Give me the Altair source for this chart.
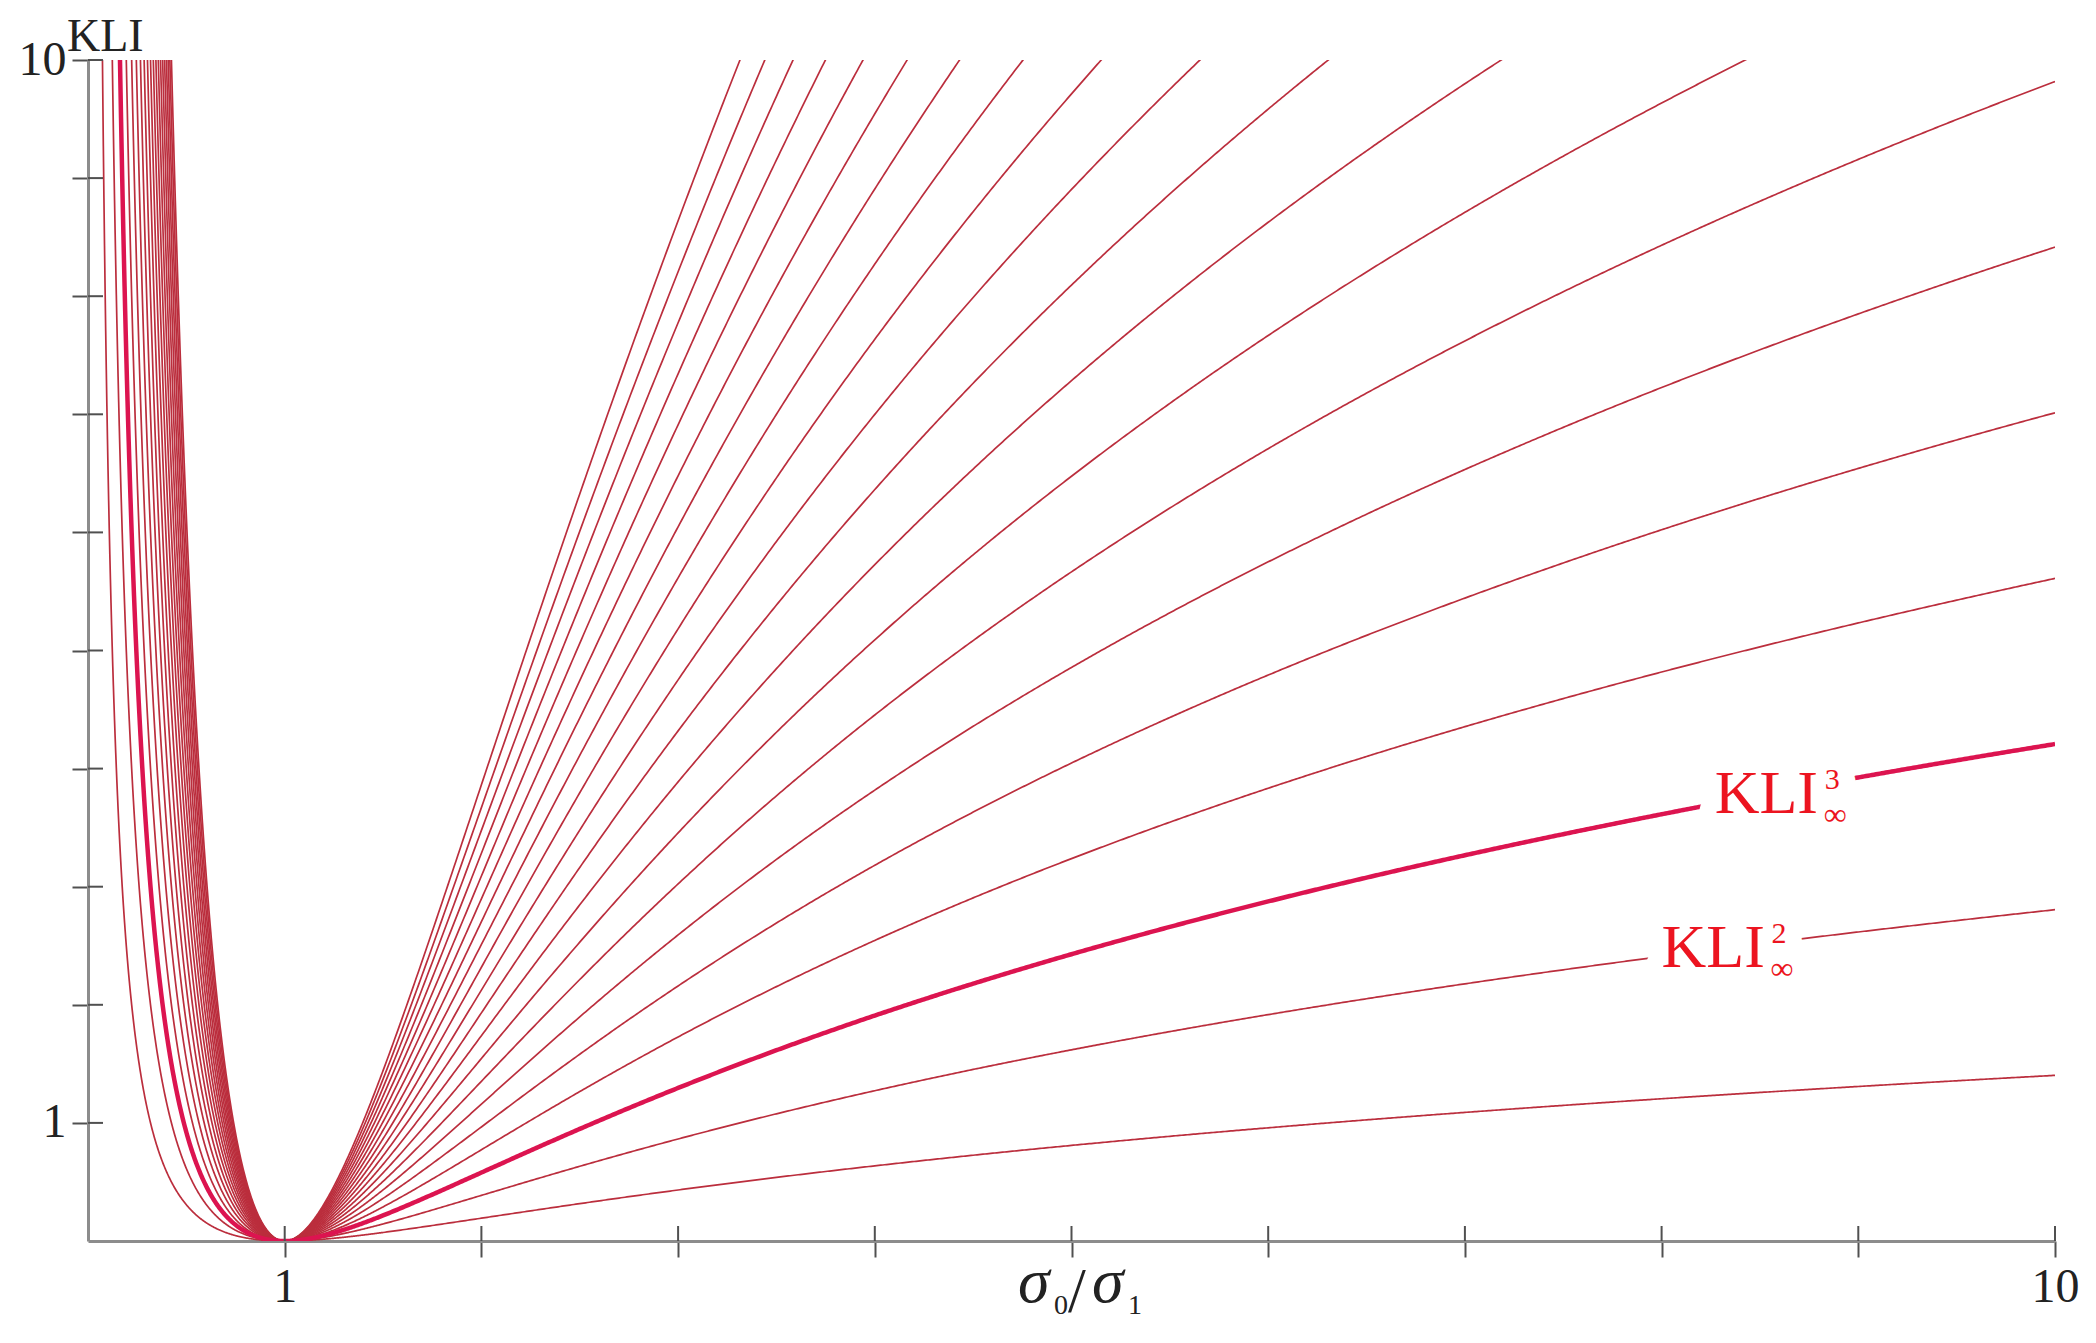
import numpy as np
import pandas as pd
import altair as alt

# ---- data -----------------------------------------------------------------
# family of curves KLI_inf^n = n * (ln r + 1/r - 1), r = sigma0/sigma1
# (the values read at r = 10 are 1.4, 2.8, 4.2, 5.6, 7.0, 8.4, 9.8 and the
#  steeper curves leave the top edge at r = 8.4, 7.2, 6.3, 5.65, ... 3.3)
multipliers = list(range(1, 21))
highlight_n = 3
x_ticks = [1, 2, 3, 4, 5, 6, 7, 8, 9, 10]
y_ticks = [1, 2, 3, 4, 5, 6, 7, 8, 9, 10]
label_n = [3, 2]
label_x = [8.27, 8.00]
label_y = [3.62, 2.32]

# ---- build table -----------------------------------------------------------
r_grid = np.concatenate([np.arange(0.03, 1.5, 0.003), np.arange(1.5, 10.0001, 0.01)])
base = np.log(r_grid) + 1.0 / r_grid - 1.0
rows = []
for n in multipliers:
    for r, b in zip(r_grid, base):
        v = n * b
        if v <= 14:
            rows.append({"r": float(r), "kli": float(v), "n": n})
df = pd.DataFrame(rows)
df_hi = df[df["n"] == highlight_n]

W, H = 1967, 1181
SERIF = "Liberation Serif"
THIN = "#bb2e3d"
THICK = "#dc1450"
LABEL_RED = "#ec1420"
AX = "#8c8c8c"
TICK = "#505050"
INK = "#222222"

xscale = alt.Scale(domain=[0, 10], nice=False, zero=False)
yscale = alt.Scale(domain=[0, 10], nice=False, zero=False)

LBL = "datum.value == 1 || datum.value == 10 ? datum.label : ''"
xaxis = alt.Axis(values=x_ticks, labelExpr=LBL, title="", grid=False, tickSize=16, tickWidth=2,
                 tickColor=TICK, domainColor=AX, domainWidth=3, labelFont=SERIF, labelFontSize=48,
                 labelColor=INK, labelPadding=6, labelFlush=False)
yaxis = alt.Axis(values=y_ticks, labelExpr=LBL, title="", grid=False, tickSize=16, tickWidth=2,
                 tickColor=TICK, domainColor=AX, domainWidth=3, labelFont=SERIF, labelFontSize=48,
                 labelColor=INK, labelPadding=6, labelFlush=False)

thin = alt.Chart(df).mark_line(clip=True, color=THIN, strokeWidth=1.7).encode(
    x=alt.X("r:Q", scale=xscale, axis=xaxis),
    y=alt.Y("kli:Q", scale=yscale, axis=yaxis),
    detail="n:N",
)
thick = alt.Chart(df_hi).mark_line(clip=True, color=THICK, strokeWidth=4.5).encode(
    x=alt.X("r:Q", axis=xaxis), y=alt.Y("kli:Q", axis=yaxis), detail="n:N"
)

# inner halves of the crossing tick marks
xt = pd.DataFrame({"t": x_ticks})
yt = pd.DataFrame({"t": y_ticks})
xin = alt.Chart(xt).mark_rule(color=TICK, strokeWidth=2).encode(
    x=alt.X("t:Q", axis=xaxis), y=alt.value(H - 15), y2=alt.value(H)
)
yin = alt.Chart(yt).mark_rule(color=TICK, strokeWidth=2).encode(
    y=alt.Y("t:Q", axis=yaxis), x=alt.value(0), x2=alt.value(15)
)

# curve labels KLI^n_inf with a white gap in the curve behind them
lab = pd.DataFrame({"x": label_x, "y": label_y, "sup": [str(v) for v in label_n],
                    "main": ["KLI", "KLI"], "inf": ["∞", "∞"]})


def text_layer(field, size, dx, dy, halo):
    kw = dict(align="left", baseline="alphabetic", font=SERIF, fontSize=size, dx=dx, dy=dy)
    if halo:
        kw.update(color="white", stroke="white", strokeWidth=34, strokeJoin="round")
    else:
        kw.update(color=LABEL_RED)
    return alt.Chart(lab).mark_text(**kw).encode(
        x=alt.X("x:Q", axis=xaxis), y=alt.Y("y:Q", axis=yaxis), text=f"{field}:N"
    )


halos = [text_layer("main", 62, 0, 0, True), text_layer("sup", 30, 110, -24, True),
         text_layer("inf", 32, 109, 12, True)]
texts = [text_layer("main", 62, 0, 0, False), text_layer("sup", 30, 110, -24, False),
         text_layer("inf", 32, 109, 12, False)]

# axis titles
ytitle = alt.Chart(pd.DataFrame({"s": ["KLI"]})).mark_text(
    align="left", baseline="alphabetic", font=SERIF, fontSize=46, color=INK
).encode(x=alt.value(-21), y=alt.value(-9), text="s:N")

xt_parts = pd.DataFrame({
    "s": ["σ", "0", "/", "σ", "1"],
    "px": [930, 966, 980, 1004, 1040],
    "py": [1242, 1254, 1252, 1242, 1254],
    "size": [64, 28, 64, 64, 28],
    "style": ["italic", "normal", "normal", "italic", "normal"],
})
xtitle_parts = []
for _, row in xt_parts.iterrows():
    xtitle_parts.append(
        alt.Chart(pd.DataFrame({"s": [row["s"]]})).mark_text(
            align="left", baseline="alphabetic", font=SERIF, fontSize=int(row["size"]),
            fontStyle=row["style"], color=INK
        ).encode(x=alt.value(int(row["px"])), y=alt.value(int(row["py"])), text="s:N")
    )

chart = alt.layer(thin, thick, xin, yin, *halos, *texts, ytitle, *xtitle_parts).properties(
    width=W, height=H,
    autosize=alt.AutoSizeParams(type="none"),
    padding={"left": 80, "top": 52, "right": 33, "bottom": 94},
    background="white",
).configure_view(stroke=None)

chart.save("out.html", embed_options={"renderer": "svg", "actions": False})
